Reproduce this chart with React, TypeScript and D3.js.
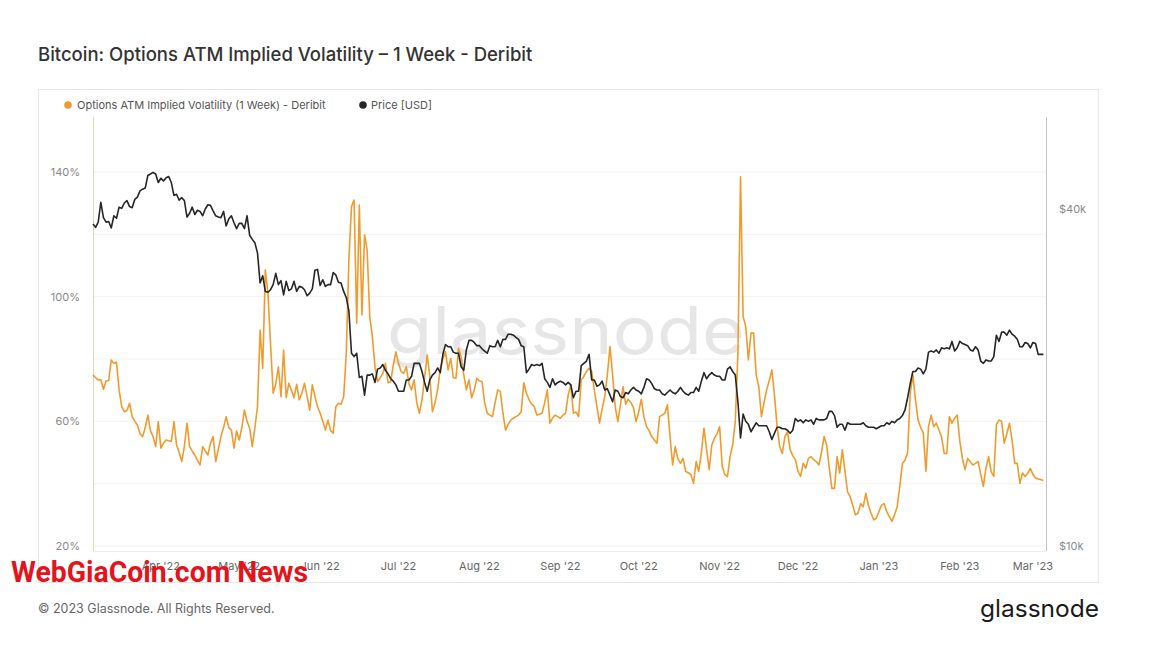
import React from "react";
import * as d3 from "d3";

// ---- Data (daily, starting 2022-03-06 UTC) ----
const startDate = Date.UTC(2022, 2, 6);
const endDate = Date.UTC(2023, 2, 6);

// Options ATM Implied Volatility (1 Week) - Deribit, in %
const ivValues: number[] = [
  74.9, 74, 73.3, 73.3, 70.3, 73, 73, 79.7, 78.6, 79,
  70, 64.7, 63.1, 63.5, 65.8, 61.5, 60, 58.8, 56, 55.1,
  58, 62, 57, 55.1, 51.9, 59.9, 51.4, 53, 54, 53.8,
  53.6, 59.9, 52.4, 50, 47.1, 52, 59.4, 51.9, 50.5, 49.2,
  47.5, 46, 51.9, 50.5, 49.2, 53, 55.1, 47.1, 51, 55.1,
  58, 61.5, 58, 57.2, 51.4, 56.9, 54, 58, 63.6, 60,
  57.8, 51.9, 58, 64.7, 89.3, 77, 108.6, 101.1, 85, 69,
  72, 77.5, 67.9, 82.9, 67.6, 72.2, 70, 67.6, 71.9, 66.9,
  69, 72.2, 68, 63.6, 71.7, 68, 64.7, 62.6, 60, 57.2,
  60.4, 57, 56.2, 64.7, 65.8, 65.5, 67.9, 81.8, 111.8, 128.9,
  131, 91.5, 129.4, 94.1, 119.8, 115, 93.6, 87.2, 77.5, 72.7,
  74, 75.4, 78.6, 72.4, 72.7, 78, 82.3, 78.6, 76, 75.4,
  77.5, 72, 70.1, 73.3, 66, 62.6, 66.9, 74, 81.3, 74.4,
  63.1, 66, 70.1, 77, 80, 82.3, 76.5, 80.2, 74, 73.8,
  83.4, 80.8, 75, 70.1, 73.3, 67.6, 70, 73.8, 73, 72.7,
  66, 62.6, 62, 61.5, 66, 70.1, 69.6, 62.6, 57.2, 59,
  60.4, 61, 61.5, 62, 63.1, 72.4, 69, 66.9, 65.5, 64.7,
  62, 62.3, 62.6, 66, 70.1, 59.4, 61, 62, 61.5, 61,
  62, 62.6, 68.5, 71.7, 62.6, 63, 61.5, 73.3, 74.4, 76,
  77, 76, 70, 64.7, 59.4, 64, 67.9, 74.9, 84, 74.9,
  64.7, 59.9, 65.3, 71.1, 65.5, 67.1, 66, 64.4, 59.9, 63,
  67.1, 61.5, 58.3, 57, 55.1, 54, 53, 61.5, 62, 62.6,
  65.3, 55.1, 46, 51.9, 48, 46.5, 48.1, 43.9, 43.5, 42.9,
  40.1, 47.1, 43.9, 50, 57.8, 50.9, 44.5, 52.4, 54.6, 56,
  58.3, 45.5, 42.9, 42.3, 48.7, 52.4, 60, 81.8, 138.5, 93.6,
  90.4, 79.7, 88.3, 88.3, 74.9, 71.1, 61.5, 66, 70.1, 73,
  76.5, 68.5, 58.3, 52, 49.7, 55.1, 56.7, 50.9, 49, 47.7,
  44, 42.3, 46.5, 44.9, 48.1, 48.7, 47.7, 47.1, 46, 50,
  55.1, 52.4, 45, 38.5, 38.5, 48.7, 43.4, 50.9, 44, 37.4,
  35.8, 33, 30, 30.5, 33.6, 32.6, 36.9, 33, 30.5, 28.4,
  28.9, 31, 33.1, 33.6, 31, 29.4, 27.9, 30, 32.6, 39.1,
  46.5, 47.5, 50, 69, 74.9, 66.9, 60.4, 58, 56.2, 43.9,
  58.3, 62, 58.3, 59.4, 57.2, 55, 49.7, 49.7, 61.5, 59.4,
  61, 62, 53.6, 48, 44.5, 48.1, 47, 46, 46.5, 47.1,
  43, 39.1, 45, 48.7, 43.9, 42.3, 59, 60.4, 60, 53,
  56, 59.4, 54, 46.5, 46.5, 40.1, 43.4, 42.3, 43.4, 44.9,
  43, 41.8, 41.5, 41.3, 41,
];

// Price [USD], in thousands
const priceValues: number[] = [
  // Mar 2022 (from 6th)
  37.6, 37.1, 37.9, 41.1, 38.6, 37.9, 38.0, 37.0, 38.9, 38.5, 40.3, 40.1, 41.0, 41.4, 40.4, 40.2, 41.6, 42.0, 43.1, 43.4, 43.6, 45.9, 46.2, 46.5, 46.2, 44.6,
  // Apr
  45.4, 44.9, 45.5, 45.7, 44.6, 42.3, 42.5, 41.5, 41.9, 41.4, 38.7, 39.3, 40.3, 39.1, 39.8, 39.6, 38.9, 40.0, 40.7, 40.6, 39.7, 38.9, 38.7, 38.6, 39.6, 37.3, 38.4, 38.9, 37.8, 36.9,
  // May
  37.7, 37.7, 36.9, 38.9, 35.9, 35.3, 34.8, 33.4, 29.5, 30.4, 28.5, 28.4, 28.7, 29.3, 30.7, 29.3, 29.8, 28.1, 29.7, 28.6, 28.8, 29.7, 28.5, 29.1, 29.0, 28.7, 28.0, 28.3, 28.8, 31.1, 31.2,
  // Jun
  29.2, 29.9, 29.1, 29.3, 29.3, 30.8, 30.5, 29.6, 29.5, 28.5, 27.8, 26.3, 22.1, 21.8, 22.1, 20.0, 20.1, 18.6, 20.2, 20.2, 20.3, 19.6, 20.7, 20.8, 21.1, 20.6, 20.3, 19.9, 19.7, 19.4,
  // Jul
  18.9, 18.9, 18.9, 19.8, 19.8, 20.1, 21.2, 21.2, 21.2, 20.5, 19.6, 18.9, 19.8, 20.2, 20.4, 20.8, 20.4, 22.0, 22.9, 22.7, 22.7, 22.2, 22.1, 22.1, 20.9, 20.6, 22.4, 23.3, 23.3, 23.1, 22.8,
  // Aug
  22.8, 22.5, 22.3, 22.1, 22.8, 22.7, 22.7, 23.3, 22.7, 23.4, 23.4, 23.9, 23.9, 23.8, 23.6, 23.4, 22.8, 22.7, 20.4, 20.7, 21.1, 21.0, 21.1, 21.0, 21.2, 19.9, 19.6, 19.2, 19.9, 19.4, 19.6,
  // Sep
  19.7, 19.6, 19.4, 19.6, 19.4, 18.4, 18.9, 18.9, 21.0, 21.2, 21.4, 22.0, 19.8, 19.8, 19.3, 19.4, 19.7, 19.0, 19.1, 18.6, 18.1, 19.0, 18.9, 18.5, 18.4, 18.8, 18.7, 19.0, 19.2, 19.0,
  // Oct
  18.9, 18.7, 19.2, 19.9, 19.8, 19.5, 19.1, 19.0, 19.0, 18.7, 18.6, 18.8, 19.0, 18.8, 18.7, 18.9, 19.2, 18.9, 18.7, 18.6, 18.8, 18.8, 19.2, 18.9, 19.7, 20.4, 19.9, 20.2, 20.4, 20.2, 20.1,
  // Nov
  20.1, 19.8, 19.8, 20.7, 20.9, 20.5, 20.2, 18.1, 15.6, 17.2, 16.7, 16.5, 16.0, 16.3, 16.6, 16.4, 16.4, 16.4, 16.4, 16.0, 15.5, 15.9, 16.3, 16.3, 16.2, 16.2, 16.1, 15.9, 16.1, 16.9,
  // Dec
  16.7, 16.8, 16.6, 16.8, 16.7, 16.8, 16.5, 16.9, 16.8, 16.8, 16.8, 16.9, 17.4, 17.4, 17.1, 16.3, 16.5, 16.5, 16.1, 16.6, 16.5, 16.5, 16.5, 16.5, 16.5, 16.6, 16.4, 16.3, 16.3, 16.3, 16.2,
  // Jan 2023
  16.3, 16.4, 16.4, 16.6, 16.5, 16.7, 16.6, 16.8, 16.9, 17.1, 17.5, 18.4, 19.5, 20.5, 20.5, 20.8, 20.7, 20.3, 20.7, 22.2, 22.3, 22.2, 22.4, 22.1, 22.6, 22.5, 22.6, 22.5, 23.2, 22.3, 22.6,
  // Feb
  23.2, 23.0, 22.9, 22.8, 22.4, 22.3, 22.7, 22.4, 21.4, 21.2, 21.5, 21.4, 21.4, 21.8, 23.8, 23.2, 24.1, 24.1, 23.8, 24.3, 23.9, 23.7, 23.4, 22.7, 22.7, 23.1, 23.0, 22.6,
  // Mar (1-5)
  23.1, 23.0, 22.0, 22.0, 22.0,
];

const leftTicks = [20, 40, 60, 80, 100, 120, 140];
const leftTickLabels = [20, 60, 100, 140];
const rightTicks = [10000, 40000];
const monthTicks = [
  "2022-04-01", "2022-05-01", "2022-06-01", "2022-07-01", "2022-08-01", "2022-09-01",
  "2022-10-01", "2022-11-01", "2022-12-01", "2023-01-01", "2023-02-01", "2023-03-01",
];

const ORANGE = "#f09b2e";
const BLACK = "#262626";
const FONT = "Inter, 'Open Sans', sans-serif";

export default function App() {
  const W = 1162;
  const H = 649;
  const plot = { left: 93, right: 1046, top: 117, bottom: 551 };

  const x = d3
    .scaleUtc()
    .domain([new Date(startDate), new Date(endDate)])
    .range([plot.left, plot.right]);
  const yL = d3.scaleLinear().domain([20, 140]).range([546, 172]);
  const yR = d3.scaleLog().domain([10000, 40000]).range([546, 209]);

  const day = 86400000;
  const ivData = ivValues.map((v, i) => ({ t: new Date(startDate + i * day), v }));
  const priceData = priceValues.map((v, i) => ({ t: new Date(startDate + i * day), v: v * 1000 }));

  const ivLine = d3
    .line<{ t: Date; v: number }>()
    .x((d) => x(d.t))
    .y((d) => yL(d.v));
  const priceLine = d3
    .line<{ t: Date; v: number }>()
    .x((d) => x(d.t))
    .y((d) => yR(d.v));

  const fmtMonth = d3.utcFormat("%b '%y");

  return (
    <svg
      width={W}
      height={H}
      viewBox={`0 0 ${W} ${H}`}
      style={{ position: "absolute", left: 0, top: 0, background: "#fff" }}
      fontFamily={FONT}
    >
      <rect x={0} y={0} width={W} height={H} fill="#fff" />
      {/* Title */}
      <text x={38} y={61} fontSize={18.5} fontWeight={500} fill="#333">
        Bitcoin: Options ATM Implied Volatility – 1 Week - Deribit
      </text>

      {/* Panel */}
      <rect x={38.5} y={89.5} width={1060} height={493} fill="#fff" stroke="#e8e8e8" />

      {/* Legend */}
      <circle cx={68} cy={105} r={3.8} fill={ORANGE} />
      <text x={77} y={109} fontSize={11} fill="#555">
        Options ATM Implied Volatility (1 Week) - Deribit
      </text>
      <circle cx={363} cy={105} r={3.8} fill={BLACK} />
      <text x={371} y={109} fontSize={11} fill="#555">
        Price [USD]
      </text>

      {/* Grid */}
      {leftTicks.map((t) => (
        <line key={t} x1={plot.left} x2={plot.right} y1={yL(t)} y2={yL(t)} stroke="#f2f2f2" strokeWidth={1} />
      ))}

      {/* Watermark */}
      <text
        x={566}
        y={354}
        fontSize={66}
        fill="#e6e6e6"
        textAnchor="middle"
        textLength={358}
        lengthAdjust="spacingAndGlyphs"
        fontFamily="Inter, sans-serif"
      >
        glassnode
      </text>

      {/* Axes lines */}
      <line x1={plot.left} x2={plot.right} y1={plot.bottom + 0.5} y2={plot.bottom + 0.5} stroke="#ececec" />
      <line x1={plot.left + 0.5} x2={plot.left + 0.5} y1={plot.top} y2={plot.bottom} stroke="#ecd3b0" />
      <line x1={plot.right + 0.5} x2={plot.right + 0.5} y1={plot.top} y2={plot.bottom} stroke="#c4c4c4" />

      {/* Left labels */}
      {leftTickLabels.map((t) => (
        <text key={t} x={80} y={yL(t) + 4} fontSize={11} fill="#888" textAnchor="end">
          {t}%
        </text>
      ))}
      {/* Right labels */}
      {rightTicks.map((t) => (
        <text key={t} x={1059} y={yR(t) + 4} fontSize={11} fill="#888">
          {"$" + t / 1000 + "k"}
        </text>
      ))}
      {/* X labels */}
      {monthTicks.map((m) => {
        const dt = new Date(m + "T00:00:00Z");
        return (
          <text key={m} x={x(dt)} y={570} fontSize={11} fill="#666" textAnchor="middle">
            {fmtMonth(dt)}
          </text>
        );
      })}

      {/* Series */}
      <path d={ivLine(ivData) || ""} fill="none" stroke={ORANGE} strokeWidth={1.6} strokeLinejoin="round" />
      <path d={priceLine(priceData) || ""} fill="none" stroke={BLACK} strokeWidth={1.6} strokeLinejoin="round" />

      {/* Footer */}
      <text x={38} y={613} fontSize={12.5} fill="#666">
        © 2023 Glassnode. All Rights Reserved.
      </text>
      <text x={1099} y={617} fontSize={24} fill="#1a1a1a" textAnchor="end" textLength={119} lengthAdjust="spacingAndGlyphs">
        glassnode
      </text>

      {/* Overlay watermark from source image */}
      <text
        x={11}
        y={582}
        fontSize={30}
        fontWeight={700}
        fill="#e3141b"
        textLength={297}
        lengthAdjust="spacingAndGlyphs"
        fontFamily="'Liberation Sans Narrow', 'Roboto', sans-serif"
      >
        WebGiaCoin.com News
      </text>
    </svg>
  );
}
